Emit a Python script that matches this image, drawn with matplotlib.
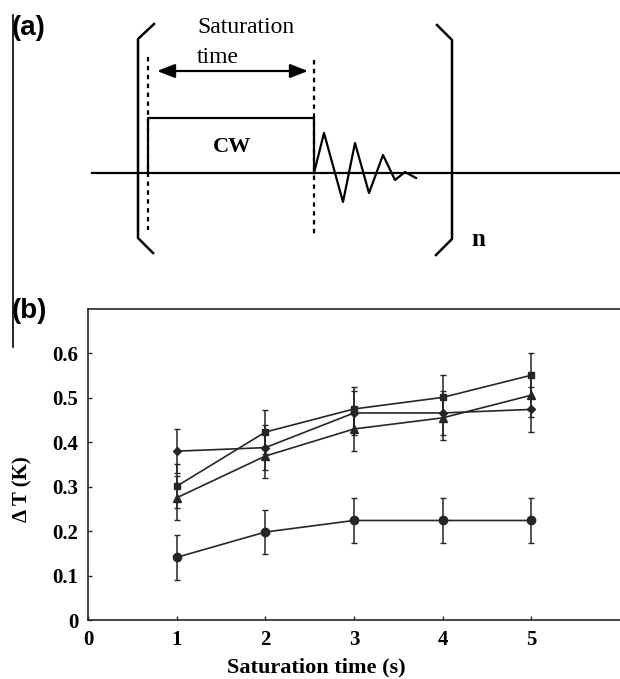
import matplotlib
matplotlib.use("Agg")
import matplotlib.pyplot as plt
import numpy as np

plt.rcParams["font.family"] = ["Liberation Serif", "DejaVu Serif"]

# data for panel (b)
sat_time = [1, 2, 3, 4, 5]
dT_square = [0.301, 0.423, 0.475, 0.501, 0.551]
dT_triangle = [0.275, 0.369, 0.430, 0.455, 0.506]
dT_diamond = [0.380, 0.388, 0.466, 0.466, 0.474]
dT_circle = [0.141, 0.198, 0.224, 0.224, 0.224]
err_square = [0.05, 0.05, 0.05, 0.05, 0.05]
err_triangle = [0.05, 0.05, 0.05, 0.05, 0.05]
err_diamond = [0.05, 0.05, 0.05, 0.05, 0.05]
err_circle = [0.05, 0.05, 0.05, 0.05, 0.05]
x_ticks = [0, 1, 2, 3, 4, 5]
y_ticks = [0, 0.1, 0.2, 0.3, 0.4, 0.5, 0.6]
y_tick_labels = ["0", "0.1", "0.2", "0.3", "0.4", "0.5", "0.6"]

W, H = 620, 679
fig = plt.figure(figsize=(W / 100, H / 100), dpi=100)

# ---- panel (b): the plot ----
ax = fig.add_axes([88 / W, (H - 620) / H, 1 - 88 / W, (620 - 309) / H])
col = "#262626"
series = [
    (dT_square, err_square, "s", 5),
    (dT_triangle, err_triangle, "^", 5.5),
    (dT_diamond, err_diamond, "D", 4),
    (dT_circle, err_circle, "o", 6),
]
for vals, err, mk, ms in series:
    ax.errorbar(sat_time, vals, yerr=err, color=col, marker=mk, markersize=ms,
                lw=1.2, elinewidth=1.1, capsize=2.5, capthick=1.0)

ax.set_xlim(0, 6)
ax.set_ylim(0, 0.7)
ax.set_xticks(x_ticks)
ax.set_xticklabels([str(t) for t in x_ticks])
ax.set_yticks(y_ticks)
ax.set_yticklabels(y_tick_labels)
ax.tick_params(direction="in", length=3, width=1, colors=col, pad=7)
for lab in ax.get_xticklabels() + ax.get_yticklabels():
    lab.set_fontweight("bold")
    lab.set_fontsize(15)
    lab.set_color("black")
ax.spines["right"].set_visible(False)
for s in ["left", "bottom", "top"]:
    ax.spines[s].set_linewidth(1.2)
    ax.spines[s].set_color(col)

ax.set_xlabel("Saturation time (s)", fontsize=16, fontweight="bold")
ax.xaxis.set_label_coords(0.43, -0.154)
ax.xaxis.label.set_va("center")
ax.set_ylabel("Δ T (K)", fontsize=15, fontweight="bold")
ax.yaxis.set_label_coords(-0.124, 0.421)
ax.yaxis.label.set_va("center")

# ---- panel (a): pulse schematic, drawn in pixel space ----
ov = fig.add_axes([0, 0, 1, 1], zorder=-1)
ov.set_xlim(0, W)
ov.set_ylim(H, 0)
ov.axis("off")
k = "black"
ov.plot([13, 13], [15, 347], color=k, lw=1.2)
ov.plot([92, 620], [173, 173], color=k, lw=1.6)
ov.plot([148, 148, 314, 314], [173, 118, 118, 173], color=k, lw=1.6)
ov.plot([154, 138, 138, 153], [24, 39, 238, 253], color=k, lw=1.8)
ov.plot([437, 452, 452, 436], [25, 40, 239, 255], color=k, lw=1.8)
ov.plot([148, 148], [57, 230], color=k, lw=1.6, ls=(0, (2, 2)))
ov.plot([314, 314], [60, 234], color=k, lw=1.6, ls=(0, (2, 2)))
ov.plot([314, 324, 343, 355, 369, 383, 395, 405, 416],
        [173, 133, 202, 143, 193, 155, 180, 172, 178], color=k, lw=1.6)
ov.annotate("", xy=(308, 71), xytext=(157, 71),
            arrowprops=dict(arrowstyle="<|-|>,head_length=0.9,head_width=0.35",
                            mutation_scale=12, color=k, lw=1.6,
                            shrinkA=0, shrinkB=0))
ov.text(197, 33, "Saturation", fontsize=17, va="baseline", ha="left")
ov.text(197, 63, "time", fontsize=17, va="baseline", ha="left")
ov.text(232, 147, "CW", fontsize=16, fontweight="bold", va="center", ha="center")
ov.text(478, 240, "n", fontsize=18, fontweight="bold", va="center", ha="center")
ov.text(12, 28, "(a)", fontsize=20, fontweight="bold", va="center", ha="left",
        family="Liberation Sans")
ov.text(12, 311, "(b)", fontsize=20, fontweight="bold", va="center", ha="left",
        family="Liberation Sans")

fig.savefig("out.png", dpi=100)
